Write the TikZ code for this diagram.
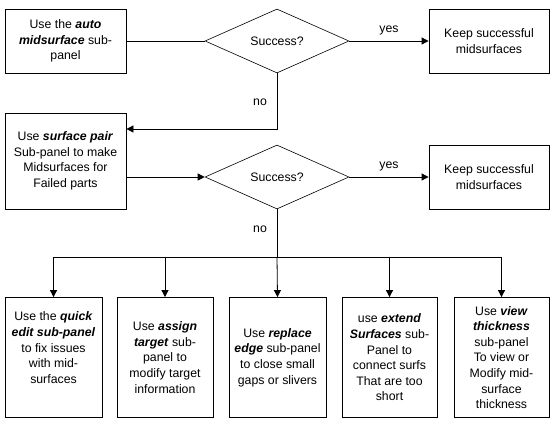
\documentclass[tikz,border=0pt]{standalone}
\usepackage{fontspec}
\setmainfont{Liberation Sans}
\usetikzlibrary{shapes.geometric,arrows.meta}
\newcommand{\bi}[1]{\textbf{\textit{#1}}}
\tikzset{
  box/.style={draw, line width=0.8pt, rectangle, align=center, inner sep=0pt,
    font=\fontsize{12.3}{15.6}\selectfont},
  dec/.style={draw, line width=0.6pt, diamond, inner sep=0pt, minimum width=144pt, minimum height=64pt,
    font=\fontsize{12.3}{15.6}\selectfont},
  lbl/.style={font=\fontsize{12.3}{15.6}\selectfont, inner sep=0pt},
  conn/.style={line width=0.8pt},
  arr/.style={line width=0.8pt, -{Triangle[length=7pt,width=7pt]}}
}
\begin{document}
\begin{tikzpicture}[x=1pt,y=-1pt]
\useasboundingbox (0,0) rectangle (555,422);
\node[box, minimum width=121pt, minimum height=64pt] (b1) at (65.5,41) {Use the \bi{auto}\\\bi{midsurface} sub-\\panel};
\node[dec] (d1) at (277,41) {Success?};
\node[box, minimum width=120pt, minimum height=64pt] (k1) at (489,41) {Keep successful\\midsurfaces};
\node[box, minimum width=121pt, minimum height=96pt] (b3) at (65.5,161) {Use \bi{surface pair}\\Sub-panel to make\\Midsurfaces for\\Failed parts};
\node[dec] (d2) at (277,177) {Success?};
\node[box, minimum width=120pt, minimum height=64pt] (k2) at (489,177) {Keep successful\\midsurfaces};

\node[box, minimum width=97pt, minimum height=120pt] (ba) at (53.5,357.5) {Use the \bi{quick}\\\bi{edit sub-panel}\\to fix issues\\with mid-\\surfaces\\[4pt]};
\node[box, minimum width=96pt, minimum height=120pt] (bb) at (165,357.5) {Use \bi{assign}\\\bi{target} sub-\\panel to\\modify target\\information};
\node[box, minimum width=97pt, minimum height=120pt] (bc) at (277.5,357.5) {Use \bi{replace}\\\bi{edge} sub-panel\\to close small\\gaps or slivers};
\node[box, minimum width=95pt, minimum height=120pt] (bd) at (389.5,357.5) {use \bi{extend}\\\bi{Surfaces} sub-\\Panel to\\connect surfs\\That are too\\short};
\node[box, minimum width=95pt, minimum height=120pt] (be) at (501.5,357.5) {Use \bi{view}\\\bi{thickness}\\sub-panel\\To view or\\Modify mid-\\surface\\thickness};

\draw[conn] (b1.east) -- (d1.west);
\draw[arr] (d1.east) -- node[lbl, above=6pt] {yes} (k1.west);
\coordinate (c1) at (277,129);
\draw[arr] (d1.south) -- (c1) -- (c1 -| b3.east);
\node[lbl] at (260,102) {no};
\draw[arr] (b3.east |- d2.west) -- (d2.west);
\draw[arr] (d2.east) -- node[lbl, above=6pt] {yes} (k2.west);
\node[lbl] at (260,229) {no};
\coordinate (j) at (277,257);
\coordinate (ja) at (53.5,257);
\coordinate (je) at (501.5,257);
\draw[conn] (d2.south) -- (j);
\draw[conn] (ja) -- (je);
\draw[arr] (ja) -- (ba.north);
\draw[arr] (bb.north |- j) -- (bb.north);
\draw[arr] (j) -- (bc.north);
\draw[arr] (bd.north |- j) -- (bd.north);
\draw[arr] (je) -- (be.north);
\end{tikzpicture}
\end{document}
